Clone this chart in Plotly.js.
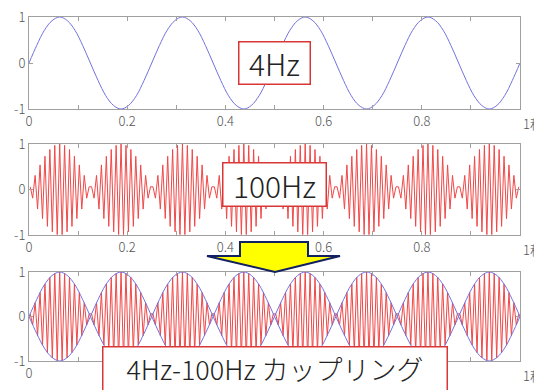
<!DOCTYPE html>
<html>
<head>
<meta charset="utf-8">
<script src="https://cdn.plot.ly/plotly-3.0.1.min.js"></script>
<style>html,body{margin:0;padding:0;background:#fff;}#chart{width:534px;height:390px;}</style>
</head>
<body>
<div id="chart"></div>
<script>
// 4 Hz wave, read at 1/64 s steps (0 .. 1 s)
const wave4Hz = [
  0, 0.38, 0.71, 0.92, 1, 0.92, 0.71, 0.38, 0, -0.38, -0.71, -0.92, -1, -0.92, -0.71, -0.38,
  0, 0.38, 0.71, 0.92, 1, 0.92, 0.71, 0.38, 0, -0.38, -0.71, -0.92, -1, -0.92, -0.71, -0.38,
  0, 0.38, 0.71, 0.92, 1, 0.92, 0.71, 0.38, 0, -0.38, -0.71, -0.92, -1, -0.92, -0.71, -0.38,
  0, 0.38, 0.71, 0.92, 1, 0.92, 0.71, 0.38, 0, -0.38, -0.71, -0.92, -1, -0.92, -0.71, -0.38,
  0
];
// mirrored envelope drawn in the coupling panel
const wave4HzLower = [
  0, -0.38, -0.71, -0.92, -1, -0.92, -0.71, -0.38, 0, 0.38, 0.71, 0.92, 1, 0.92, 0.71, 0.38,
  0, -0.38, -0.71, -0.92, -1, -0.92, -0.71, -0.38, 0, 0.38, 0.71, 0.92, 1, 0.92, 0.71, 0.38,
  0, -0.38, -0.71, -0.92, -1, -0.92, -0.71, -0.38, 0, 0.38, 0.71, 0.92, 1, 0.92, 0.71, 0.38,
  0, -0.38, -0.71, -0.92, -1, -0.92, -0.71, -0.38, 0, 0.38, 0.71, 0.92, 1, 0.92, 0.71, 0.38,
  0
];
const step4Hz = 1 / 64;

// 100 Hz wave (peaks read every 5 ms, starting at 2.5 ms)
const wave100Hz = [
  0.06,-0.19,0.31,-0.43,0.54,-0.64,0.73,-0.81,0.88,-0.93,0.97,-0.99,1,-0.99,0.97,-0.93,0.88,-0.81,0.73,-0.64,0.54,-0.43,0.31,-0.19,0.06,
  0.06,-0.19,0.31,-0.43,0.54,-0.64,0.73,-0.81,0.88,-0.93,0.97,-0.99,1,-0.99,0.97,-0.93,0.88,-0.81,0.73,-0.64,0.54,-0.43,0.31,-0.19,0.06,
  0.06,-0.19,0.31,-0.43,0.54,-0.64,0.73,-0.81,0.88,-0.93,0.97,-0.99,1,-0.99,0.97,-0.93,0.88,-0.81,0.73,-0.64,0.54,-0.43,0.31,-0.19,0.06,
  0.06,-0.19,0.31,-0.43,0.54,-0.64,0.73,-0.81,0.88,-0.93,0.97,-0.99,1,-0.99,0.97,-0.93,0.88,-0.81,0.73,-0.64,0.54,-0.43,0.31,-0.19,0.06,
  0.06,-0.19,0.31,-0.43,0.54,-0.64,0.73,-0.81,0.88,-0.93,0.97,-0.99,1,-0.99,0.97,-0.93,0.88,-0.81,0.73,-0.64,0.54,-0.43,0.31,-0.19,0.06,
  0.06,-0.19,0.31,-0.43,0.54,-0.64,0.73,-0.81,0.88,-0.93,0.97,-0.99,1,-0.99,0.97,-0.93,0.88,-0.81,0.73,-0.64,0.54,-0.43,0.31,-0.19,0.06,
  0.06,-0.19,0.31,-0.43,0.54,-0.64,0.73,-0.81,0.88,-0.93,0.97,-0.99,1,-0.99,0.97,-0.93,0.88,-0.81,0.73,-0.64,0.54,-0.43,0.31,-0.19,0.06,
  0.06,-0.19,0.31,-0.43,0.54,-0.64,0.73,-0.81,0.88,-0.93,0.97,-0.99,1,-0.99,0.97,-0.93,0.88,-0.81,0.73,-0.64,0.54,-0.43,0.31,-0.19,0.06
];
const start100Hz = 0.0025, step100Hz = 0.005;

const xTickVals = [0, 0.1, 0.2, 0.3, 0.4, 0.5, 0.6, 0.7, 0.8, 0.9, 1];
const xTickText = ['0', '', '0.2', '', '0.4', '', '0.6', '', '0.8', '', ''];
// in the coupling panel the middle labels sit behind the caption box
const xTickTextBottom = ['0', '', '', '', '', '', '', '', '', '', ''];
const yTickVals = [-1, 0, 1];
const yTickText = ['-1', '0', '1'];
const labels = ['4Hz', '100Hz', '4Hz-100Hz カップリング'];
const unitLabel = '1秒';

const t4 = wave4Hz.map((_, i) => i * step4Hz);
const t100 = wave100Hz.map((_, i) => start100Hz + i * step100Hz);

const BLUE = '#7272e0', RED = '#f04848', GRAY = '#a0a0a0';
const FONT = '"Noto Sans CJK JP", "Noto Sans", sans-serif';

const traces = [
  {x: t4, y: wave4Hz, xaxis: 'x', yaxis: 'y', mode: 'lines', line: {color: BLUE, width: 1, shape: 'spline'}},
  {x: t100, y: wave100Hz, xaxis: 'x2', yaxis: 'y2', mode: 'lines', line: {color: RED, width: 1}},
  {x: t100, y: wave100Hz, xaxis: 'x3', yaxis: 'y3', mode: 'lines', line: {color: RED, width: 1}},
  {x: t4, y: wave4Hz, xaxis: 'x3', yaxis: 'y3', mode: 'lines', line: {color: BLUE, width: 1, shape: 'spline'}},
  {x: t4, y: wave4HzLower, xaxis: 'x3', yaxis: 'y3', mode: 'lines', line: {color: BLUE, width: 1, shape: 'spline'}}
];

const TICKFONT = {family: FONT, size: 13, color: '#555', weight: 300};

function xAx(anchor, text) {
  return {anchor: anchor, domain: [0, 1], range: [0, 1], tickmode: 'array', tickvals: xTickVals, ticktext: text,
    ticks: 'inside', ticklen: 4, tickcolor: GRAY, showline: true, linecolor: GRAY, linewidth: 1, mirror: 'ticks',
    showgrid: false, zeroline: false, tickfont: TICKFONT, fixedrange: true};
}
function yAx(anchor, dom) {
  return {anchor: anchor, domain: dom, range: [-1, 1], tickmode: 'array', tickvals: yTickVals, ticktext: yTickText,
    ticks: 'inside', ticklen: 4, tickcolor: GRAY, showline: true, linecolor: GRAY, linewidth: 1, mirror: 'ticks',
    showgrid: false, zeroline: false, tickfont: TICKFONT, fixedrange: true};
}

// pixel -> paper helpers (plot area spans x 29..520, y 17..361)
const L = 29, R = 520, T = 17, B = 361;
const px = x => (x - L) / (R - L);
const py = y => (B - y) / (B - T);

const arrowPts = [[240,242],[308,242],[308,256],[340,256],[275,272],[207,256],[240,256]];
const arrowPath = 'M ' + arrowPts.map(p => px(p[0]).toFixed(4) + ' ' + py(p[1]).toFixed(4)).join(' L ') + ' Z';

function box(text, cx, cy, w, h, size) {
  return {xref: 'paper', yref: 'paper', x: px(cx), y: py(cy), xanchor: 'center', yanchor: 'middle',
    text: text, showarrow: false, width: w, height: h, bgcolor: '#ffffff', bordercolor: '#d93636',
    borderwidth: 1.5, borderpad: 0, font: {family: FONT, size: size, color: '#222', weight: 300}};
}
function unit(xa, ya) {
  return {xref: xa, yref: ya + ' domain', x: 1, y: 0, xanchor: 'left', yanchor: 'top', xshift: 1, yshift: -3,
    text: unitLabel, showarrow: false, font: TICKFONT};
}

const bottomBox = {xref: 'paper', yref: 'paper', x: px(274.5), y: py(346), xanchor: 'center', yanchor: 'top',
  valign: 'top', text: labels[2], showarrow: false, width: 341, height: 52, bgcolor: '#ffffff',
  bordercolor: '#d93636', borderwidth: 1.5, borderpad: 1,
  font: {family: FONT, size: 27, color: '#222', weight: 300}};

const layout = {
  width: 534, height: 390,
  margin: {l: L, r: 534 - R, t: T, b: 390 - B},
  paper_bgcolor: '#fff', plot_bgcolor: '#fff', showlegend: false,
  xaxis: xAx('y', xTickText), yaxis: yAx('x', [py(109), 1]),
  xaxis2: xAx('y2', xTickText), yaxis2: yAx('x2', [py(235), py(144)]),
  xaxis3: xAx('y3', xTickTextBottom), yaxis3: yAx('x3', [0, py(272)]),
  shapes: [{type: 'path', xref: 'paper', yref: 'paper', path: arrowPath, fillcolor: '#ffff00',
    line: {color: '#102060', width: 2}, layer: 'above'}],
  annotations: [
    unit('x', 'y'), unit('x2', 'y2'), unit('x3', 'y3'),
    box(labels[0], 274, 63, 70, 41, 30),
    box(labels[1], 274, 184.5, 102, 42, 30),
    bottomBox
  ]
};

Plotly.newPlot('chart', traces, layout, {staticPlot: true, displayModeBar: false});
</script>
</body>
</html>
